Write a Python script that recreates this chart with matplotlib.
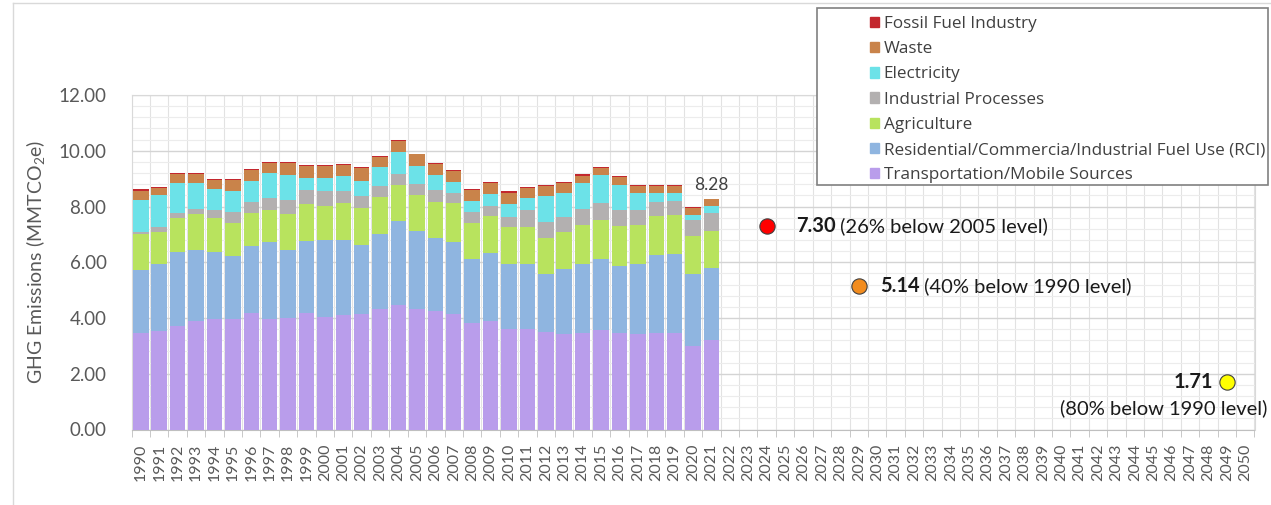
import matplotlib
matplotlib.use("Agg")
import matplotlib.pyplot as plt
import numpy as np
from matplotlib.lines import Line2D
from matplotlib.patches import Patch, Rectangle

plt.rcParams["font.family"] = ["Lato", "DejaVu Sans"]
plt.rcParams["mathtext.fontset"] = "custom"
plt.rcParams["mathtext.rm"] = "Lato"
plt.rcParams["mathtext.default"] = "regular"

# historical inventory, MMTCO2e
years = list(range(1990, 2022))
transport = [3.47, 3.53, 3.71, 3.88, 3.98, 3.95, 4.19, 3.98, 4.00, 4.19, 4.04, 4.10, 4.16, 4.31, 4.46, 4.31,
             4.25, 4.16, 3.83, 3.89, 3.59, 3.59, 3.50, 3.44, 3.47, 3.56, 3.47, 3.44, 3.46, 3.46, 2.99, 3.20]
rci = [2.24, 2.39, 2.66, 2.55, 2.39, 2.28, 2.40, 2.73, 2.43, 2.56, 2.75, 2.71, 2.47, 2.70, 3.01, 2.80,
       2.62, 2.55, 2.30, 2.45, 2.36, 2.36, 2.09, 2.31, 2.48, 2.57, 2.39, 2.48, 2.79, 2.83, 2.60, 2.61]
agriculture = [1.30, 1.17, 1.20, 1.29, 1.20, 1.18, 1.18, 1.16, 1.29, 1.33, 1.23, 1.33, 1.33, 1.34, 1.30, 1.30,
               1.30, 1.40, 1.28, 1.32, 1.30, 1.30, 1.28, 1.34, 1.40, 1.38, 1.43, 1.43, 1.41, 1.42, 1.34, 1.32]
industrial = [0.08, 0.18, 0.18, 0.18, 0.30, 0.40, 0.40, 0.45, 0.51, 0.51, 0.53, 0.41, 0.42, 0.38, 0.39, 0.38,
              0.42, 0.38, 0.40, 0.35, 0.38, 0.62, 0.56, 0.54, 0.55, 0.60, 0.58, 0.52, 0.51, 0.49, 0.60, 0.64]
electricity = [1.16, 1.14, 1.08, 0.93, 0.74, 0.75, 0.75, 0.89, 0.90, 0.45, 0.46, 0.54, 0.54, 0.67, 0.80, 0.66,
               0.54, 0.40, 0.39, 0.43, 0.45, 0.42, 0.95, 0.87, 0.93, 1.02, 0.90, 0.62, 0.32, 0.29, 0.18, 0.25]
waste = [0.31, 0.25, 0.32, 0.32, 0.34, 0.39, 0.40, 0.36, 0.44, 0.41, 0.44, 0.40, 0.45, 0.38, 0.39, 0.42,
         0.40, 0.38, 0.39, 0.41, 0.42, 0.38, 0.35, 0.35, 0.28, 0.24, 0.28, 0.24, 0.24, 0.24, 0.23, 0.24]
fossil = [0.05, 0.05, 0.04, 0.04, 0.03, 0.03, 0.03, 0.03, 0.03, 0.04, 0.04, 0.03, 0.03, 0.04, 0.03, 0.03,
          0.04, 0.04, 0.03, 0.04, 0.05, 0.04, 0.04, 0.04, 0.04, 0.03, 0.04, 0.04, 0.04, 0.04, 0.05, 0.02]

sectors = ["Transportation/Mobile Sources", "Residential/Commercia/Industrial Fuel Use (RCI)",
           "Agriculture", "Industrial Processes", "Electricity", "Waste", "Fossil Fuel Industry"]
colors = ["#b99deb", "#8fb5e0", "#b8e35e", "#b3b0b0", "#6ce2e8", "#c9834a", "#c3272e"]

# reduction targets
target_years = [2024, 2029, 2049]
target_values = [7.30, 5.14, 1.71]
target_notes = ["(26% below 2005 level)", "(40% below 1990 level)", "(80% below 1990 level)"]
target_colors = ["#ff0000", "#f28c1e", "#ffff00"]

axis_years = list(range(1990, 2051))

W, H = 1271, 505
fig = plt.figure(figsize=(W / 100, H / 100), dpi=100)
ax = fig.add_axes([131.6 / W, 1 - 429.5 / H, (1254.5 - 131.6) / W, (429.5 - 95) / H])

bottom = np.zeros(len(years))
for vals, col in zip([transport, rci, agriculture, industrial, electricity, waste, fossil], colors):
    ax.bar(years, vals, 0.84, bottom=bottom, color=col, linewidth=0, zorder=3)
    bottom += np.array(vals)

ax.text(years[-1], bottom[-1] + 0.2, f"{bottom[-1]:.2f}", ha="center", va="bottom",
        fontsize=12.5, color="#404040", zorder=4)

# targets
offsets = [(29, 0), (21, 0)]
for i in range(2):
    ax.plot(target_years[i], target_values[i], "o", ms=11, mfc=target_colors[i], mec="#404040",
            mew=0.8, zorder=5)
    t1 = ax.annotate(f"{target_values[i]:.2f}", (target_years[i], target_values[i]),
                     xytext=offsets[i], textcoords="offset pixels", ha="left", va="center",
                     fontsize=14.5, fontweight="bold", color="#1a1a1a")
    ax.annotate(" " + target_notes[i], xy=(1, 0.5), xycoords=t1, ha="left", va="center",
                fontsize=14.5, color="#1a1a1a")

ax.plot(target_years[2], target_values[2], "o", ms=11, mfc=target_colors[2], mec="#404040",
        mew=0.8, zorder=5)
ax.annotate(f"{target_values[2]:.2f}", (target_years[2], target_values[2]), xytext=(-14, 0),
            textcoords="offset pixels", ha="right", va="center",
            fontsize=14.5, fontweight="bold", color="#1a1a1a")
ax.annotate(target_notes[2], (target_years[2], target_values[2]), xytext=(-63, -26),
            textcoords="offset pixels", ha="center", va="center",
            fontsize=14.5, color="#1a1a1a", annotation_clip=False)

# axes
ax.set_xlim(1989.5, 2050.5)
ax.set_ylim(0, 12)
ax.set_xticks(axis_years)
ax.set_xticklabels([str(y) for y in axis_years], rotation=90, fontsize=11.5, color="#595959")
ax.set_xticks(np.arange(1989.5, 2051, 1), minor=True)
ax.set_yticks(np.arange(0, 12.1, 2))
ax.set_yticklabels([f"{v:.2f}" for v in np.arange(0, 12.1, 2)], fontsize=13.5, color="#595959")
ax.set_yticks(np.arange(0, 12.01, 0.4), minor=True)
ax.tick_params(axis="x", which="major", length=0, pad=10)
ax.tick_params(axis="x", which="minor", length=5, color="#bfbfbf", direction="out")
ax.tick_params(axis="y", which="both", length=0, pad=18)
ax.grid(True, axis="y", which="major", color="#d4d4d4", lw=1.0, zorder=0)
ax.grid(True, axis="y", which="minor", color="#ececec", lw=0.8, zorder=0)
ax.grid(True, axis="x", which="minor", color="#e2e2e2", lw=0.8, zorder=0)
for s in ax.spines.values():
    s.set_color("#d9d9d9")
ax.spines["bottom"].set_color("#bfbfbf")
ax.set_axisbelow(True)

ax.set_ylabel("GHG Emissions (MMTCO$_2$e)", fontsize=14, color="#595959")
ax.yaxis.set_label_coords(-0.075, 0.5)

# chart border (left and top edges)
fig.add_artist(Line2D([13 / W, 13 / W], [0, 1 - 3 / H], transform=fig.transFigure, color="#d9d9d9", lw=1))
fig.add_artist(Line2D([13 / W, 1], [1 - 3 / H, 1 - 3 / H], transform=fig.transFigure, color="#d9d9d9", lw=1))

# legend with its own box
fig.add_artist(Rectangle((817 / W, 1 - 185 / H), (1268 - 817) / W, (185 - 8) / H,
                         transform=fig.transFigure, fc="white", ec="#808080", lw=1.2, zorder=4))
handles = [Patch(color=c) for c in colors][::-1]
fig.legend(handles, sectors[::-1], loc="upper left", bbox_to_anchor=(858 / W, 1 - 4 / H),
           frameon=False, prop={"family": "Open Sans", "size": 12.3}, labelcolor="#404040",
           handlelength=0.55, handleheight=0.55, handletextpad=0.25, labelspacing=0.54, borderpad=0.2)

fig.savefig("out.png", dpi=100)
